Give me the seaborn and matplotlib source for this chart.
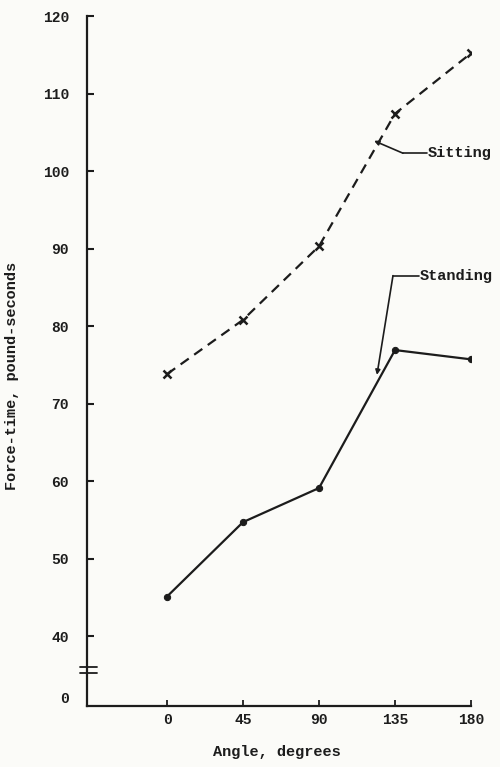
import matplotlib
matplotlib.use("Agg")
import numpy as np
import pandas as pd
import matplotlib.pyplot as plt
import seaborn as sns

# data
angles = [0, 45, 90, 135, 180]
sitting = [73.8, 80.8, 90.3, 107.4, 115.2]
standing = [45.1, 54.7, 59.1, 76.9, 75.7]

ytick_values = [40, 50, 60, 70, 80, 90, 100, 110, 120]
ytick_zero_pos = 32.1  # where the "0" label sits below the axis break
xtick_labels = ["0", "45", "90", "135", "180"]

INK = "#1c1c1c"
PAPER = "#fbfbf8"
FONT = "Liberation Mono"

sns.set_theme(style="white")
plt.rcParams["font.family"] = [FONT, "DejaVu Sans Mono"]
plt.rcParams["font.weight"] = "bold"

fig = plt.figure(figsize=(5, 7.67), dpi=100, facecolor=PAPER)
ax = fig.add_axes([0.174, 0.0795, 0.768, 0.8996])
ax.set_facecolor(PAPER)

df = pd.DataFrame({"angle": angles, "sitting": sitting, "standing": standing})

sns.lineplot(data=df, x="angle", y="sitting", ax=ax, color=INK, lw=1.6,
             marker="x", markersize=6, markeredgewidth=1.8, markeredgecolor=INK)
ax.lines[-1].set_dashes((4.5, 3))
sns.lineplot(data=df, x="angle", y="standing", ax=ax, color=INK, lw=1.6,
             marker="o", markersize=4.5, markeredgecolor=INK, markerfacecolor=INK)

ax.set_xlim(-47.4, 180)
ax.set_ylim(30.97, 120)

ax.set_xticks(angles)
ax.set_xticklabels(xtick_labels)
ax.set_yticks([ytick_zero_pos] + ytick_values)
ax.set_yticklabels(["0"] + [str(v) for v in ytick_values])
ax.set_xlabel("")
ax.set_ylabel("")

for s in ["top", "right"]:
    ax.spines[s].set_visible(False)
for s in ["left", "bottom"]:
    ax.spines[s].set_color(INK)
    ax.spines[s].set_linewidth(1.6)

ax.tick_params(axis="y", direction="in", length=5, width=1.5, colors=INK,
               labelsize=10.5, pad=13, left=True)
ax.tick_params(axis="x", direction="in", length=4, width=1.3, colors=INK,
               labelsize=10.5, pad=5, bottom=True)
# the zero tick is only a label
ax.yaxis.get_major_ticks()[0].tick1line.set_visible(False)

# axis break marks
trans = ax.get_yaxis_transform()
for yb in (36.0, 35.2):
    ax.plot([-0.018, 0.026], [yb, yb], transform=trans, color=INK, lw=1.3,
            clip_on=False)

# leader lines and labels
ax.plot([139.7, 154.0], [102.3, 102.3], color=INK, lw=1.2)
ax.annotate("", xy=(122.6, 103.9), xytext=(139.7, 102.3),
            arrowprops=dict(arrowstyle="-|>", lw=1.2, color=INK,
                            shrinkA=0, shrinkB=0, mutation_scale=7))
ax.text(154.5, 102.3, "Sitting", fontsize=11, color=INK, ha="left", va="center")

ax.plot([133.8, 149.5], [86.5, 86.5], color=INK, lw=1.2)
ax.annotate("", xy=(124.3, 73.7), xytext=(133.8, 86.5),
            arrowprops=dict(arrowstyle="-|>", lw=1.2, color=INK,
                            shrinkA=0, shrinkB=0, mutation_scale=7))
ax.text(149.8, 86.5, "Standing", fontsize=11, color=INK, ha="left", va="center")

fig.text(0.024, 0.51, "Force-time, pound-seconds", rotation=90, fontsize=11,
         color=INK, ha="center", va="center")
fig.text(0.554, 0.0196, "Angle, degrees", fontsize=11, color=INK,
         ha="center", va="center")

fig.savefig("out.png", dpi=100, facecolor=PAPER)
